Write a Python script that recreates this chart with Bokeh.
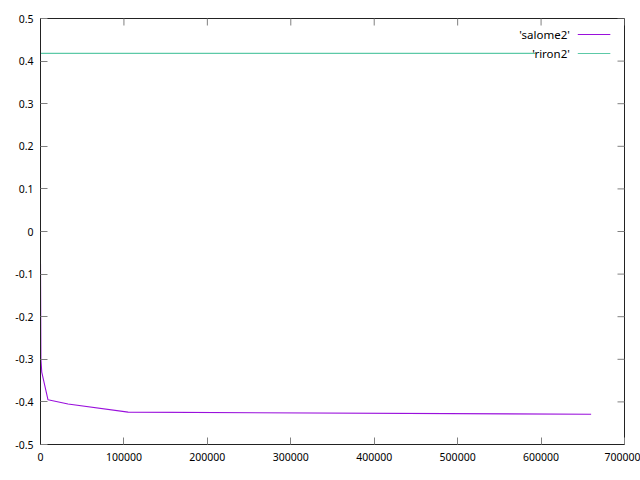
import math
from bokeh.plotting import figure
from bokeh.models import (Range1d, LinearAxis, FixedTicker, CustomJSTickFormatter, Label)
from bokeh.embed import file_html
from bokeh.resources import INLINE

# Data
salome2_x = [0, 500, 1500, 9000, 33000, 105000, 660000]
salome2_y = [-0.075, -0.30, -0.33, -0.395, -0.405, -0.424, -0.429]
riron2_x = [0, 593000]
riron2_y = [0.418, 0.418]
x_ticks = [0, 100000, 200000, 300000, 400000, 500000, 600000, 700000]
y_ticks = [-0.5, -0.4, -0.3, -0.2, -0.1, 0, 0.1, 0.2, 0.3, 0.4, 0.5]
series_names = ["'salome2'", "'riron2'"]
series_colors = ["#9a10dc", "#5cc9a7"]

FONT = "Noto Sans"
FS = "10.5px"
KEY_FS = "11.5px"
X0, X1 = 0, 700000
Y0, Y1 = -0.5, 0.5

p = figure(width=640, height=480, output_backend="svg", toolbar_location=None,
           x_range=Range1d(X0, X1), y_range=Range1d(Y0, Y1),
           x_axis_location=None, y_axis_location=None,
           min_border_left=40, min_border_right=16, min_border_top=18, min_border_bottom=36)
p.grid.visible = False
p.outline_line_color = "#222222"
p.outline_line_width = 1
p.background_fill_color = "white"
p.border_fill_color = "white"

def style(ax):
    ax.axis_line_color = "#222222"
    ax.major_tick_in = 7
    ax.major_tick_out = 0
    ax.minor_tick_in = 0
    ax.minor_tick_out = 0
    ax.major_tick_line_color = "#808080"
    ax.major_label_text_font = FONT
    ax.major_label_text_font_size = FS
    ax.major_label_text_color = "black"

xf = CustomJSTickFormatter(code="return tick.toFixed(0);")
yf = CustomJSTickFormatter(code="return String(Number(tick.toFixed(1)));")

bottom = LinearAxis(ticker=FixedTicker(ticks=x_ticks), formatter=xf)
style(bottom)
bottom.major_label_standoff = 8
left = LinearAxis(ticker=FixedTicker(ticks=y_ticks), formatter=yf)
style(left)
left.major_label_standoff = 7
p.add_layout(bottom, "below")
p.add_layout(left, "left")

# mirrored ticks on top and right border (half of each dash is clipped by the frame)
p.scatter(x=[X1] * len(y_ticks), y=y_ticks, marker="dash", size=14,
          line_color="#808080", line_width=1)
p.scatter(x=x_ticks, y=[Y1] * len(x_ticks), marker="dash", size=14, angle=math.pi / 2,
          line_color="#808080", line_width=1)

p.line(salome2_x, salome2_y, line_color=series_colors[0], line_width=1.1)
p.line(riron2_x, riron2_y, line_color=series_colors[1], line_width=1.2)

# gnuplot-style key: right-aligned text with sample line to its right
key_rows_y = [0.4624, 0.4178]
key_widths = [1.1, 1.2]
for name, color, ky, lw in zip(series_names, series_colors, key_rows_y, key_widths):
    p.add_layout(Label(x=634500, y=ky, text=name, text_align="right", text_baseline="middle",
                       text_font=FONT, text_font_size=KEY_FS, text_color="black"))
    p.segment(x0=[644000], y0=[ky], x1=[683000], y1=[ky], line_color=color, line_width=lw)

open("out.html", "w").write(file_html(p, INLINE))
